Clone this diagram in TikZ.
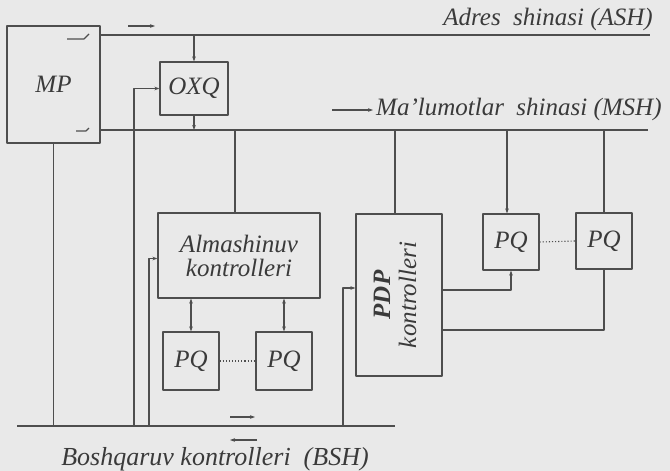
\documentclass[tikz,border=0pt]{standalone}
\usepackage{fontspec}
\setmainfont{Liberation Serif}
\usetikzlibrary{arrows.meta}
\newcommand{\Px}{1pt}
\newcommand{\Rim}{1.2pt}
\newcommand{\Wire}{1.1pt}
\newcommand{\Rail}{1.5pt}
\definecolor{paper}{HTML}{E9E9E9}
\definecolor{ink}{HTML}{4E4E4E}
\definecolor{lettering}{HTML}{3A3A3A}

\begin{document}
\begin{tikzpicture}[x=\Px,y=-\Px, line join=round,
  >={Stealth[length=5pt,width=3.6pt]},
  box/.style={draw=ink, fill=paper, line width=\Rim, inner sep=0pt, align=center,
    text=lettering, font=\fontsize{25}{24}\selectfont\itshape},
  caption/.style={inner sep=0pt, text=lettering, font=\fontsize{25}{24}\selectfont\itshape},
  wire/.style={draw=ink, line width=\Wire},
  rail/.style={draw=ink, line width=\Rail}]

  \useasboundingbox (0,0) rectangle (670,471);
  \fill[paper] (0,0) rectangle (670,471);

  % ---- the three buses ----------------------------------------------------
  \coordinate (ashL) at (90,35);
  \coordinate (ashR) at (650,35);
  \coordinate (mshL) at (90,130);
  \coordinate (mshR) at (648,130);
  \coordinate (bshL) at (17,426);
  \coordinate (bshR) at (395,426);
  \draw[rail] (ashL) -- (ashR);
  \draw[rail] (mshL) -- (mshR);
  \draw[rail] (bshL) -- (bshR);
  % Where the risers leave the control bus.
  \coordinate (tapOXQ) at (134,426);
  \coordinate (tapAlm) at (149,426);
  \coordinate (tapPDP) at (343,426);

  % ---- the blocks ---------------------------------------------------------
  \node[box, minimum width=93, minimum height=117] (MP) at (53.5,84.5) {MP};
  \node[box, minimum width=68, minimum height=53] (OXQ) at (194,88.5) {OXQ};
  \node[box, minimum width=162, minimum height=85] (Alm) at (239,255.5) {Almashinuv\\kontrolleri};
  \node[box, minimum width=56, minimum height=58] (PQa) at (191,361) {PQ};
  \node[box, minimum width=56, minimum height=58] (PQb) at (284,361) {PQ};
  \node[box, minimum width=86, minimum height=162] (PDP) at (399,295) {};
  \node[caption, rotate=90, align=center, font=\fontsize{25}{26}\selectfont\itshape]
    (PDPlbl) at ([xshift=-4pt]PDP.center) {\textbf{PDP}\\kontrolleri};
  \node[box, minimum width=56, minimum height=56] (PQc) at (511,242) {PQ};
  \node[box, minimum width=56, minimum height=56] (PQd) at (604,241) {PQ};

  % ---- the switches inside MP ---------------------------------------------
  \draw[wire] (67,39) -- (84,39) -- (89,34);
  \draw[wire] (76,131) -- (86,131) -- (89,128);

  % ---- bus names and their direction marks --------------------------------
  \node[caption, anchor=base east] (ASHlbl) at (653,25) {Adres\ \ shinasi (ASH)};
  \node[caption, anchor=base west] (MSHlbl) at (376,115) {Ma'lumotlar\ \ shinasi (MSH)};
  \node[caption, anchor=base, font=\fontsize{26}{24}\selectfont\itshape]
    (BSHlbl) at (215,465) {Boshqaruv kontrolleri\ \ (BSH)};
  \draw[wire,->] (128,26) -- (155,26);
  \draw[wire,->] (332,110) -- (373,110);
  \draw[wire,->] (230,417) -- (255,417);
  \draw[wire,->] (257,440) -- (230,440);

  % ---- MP and the memory --------------------------------------------------
  \draw[wire] (MP.south) -- (MP.south |- bshL);
  \draw[wire,->] (OXQ.north |- ashL) -- (OXQ.north);
  \draw[wire,->] (OXQ.south) -- (OXQ.south |- mshL);
  \draw[wire,->] (tapOXQ) |- (OXQ.west);

  % ---- the exchange controller and its two devices ------------------------
  \draw[wire] ([xshift=-4pt]Alm.north |- mshL) -- ([xshift=-4pt]Alm.north);
  \draw[wire,->] (tapAlm) |- ([yshift=-3pt]Alm.west);
  \draw[wire,<->] (Alm.south -| PQa.north) -- (PQa.north);
  \draw[wire,<->] (Alm.south -| PQb.north) -- (PQb.north);
  \draw[wire,dotted] (PQa.east) -- (PQb.west);

  % ---- the PDP controller and the devices on the data bus -----------------
  \draw[wire] ([xshift=-4pt]PDP.north |- mshL) -- ([xshift=-4pt]PDP.north);
  \draw[wire,->] (tapPDP) |- ([yshift=7pt]PDP.west);
  \draw[wire,->] ([xshift=-4pt]PQc.north |- mshL) -- ([xshift=-4pt]PQc.north);
  \draw[wire] (PQd.north |- mshL) -- (PQd.north);
  \draw[wire,->] ([yshift=5pt]PDP.east) -| (PQc.south);
  \draw[wire] ([yshift=-35pt]PDP.east) -| (PQd.south);
  \draw[wire,dotted] (PQc.east) -- (PQd.west);

\end{tikzpicture}
\end{document}
